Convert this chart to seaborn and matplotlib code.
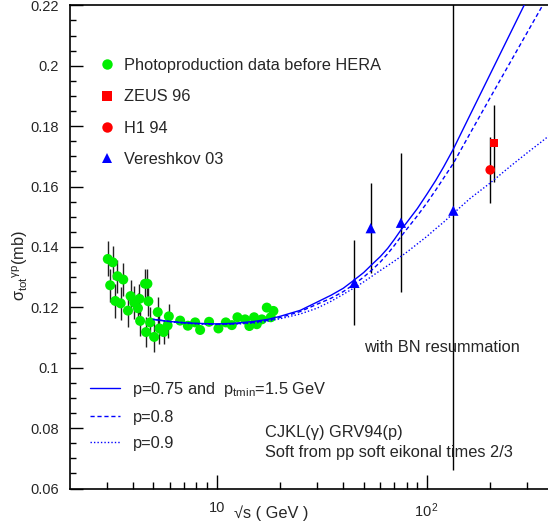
import matplotlib
matplotlib.use("Agg")
import matplotlib.pyplot as plt
from matplotlib.lines import Line2D
from matplotlib.ticker import FixedLocator, FuncFormatter
import pandas as pd
import seaborn as sns

# photoproduction data before HERA (sqrt(s) in GeV, sigma in mb)
photo_x = [3.04, 3.12, 3.21, 3.30, 3.38, 3.50, 3.60, 3.79, 3.90, 4.06, 4.23, 4.30,
           4.33, 4.57, 4.69, 4.62, 4.74, 4.83, 5.05, 5.25, 5.35, 5.60, 5.85, 5.93,
           6.71, 7.30, 7.91, 8.35, 9.21, 10.2, 11.06, 11.81, 12.56, 13.66, 14.31,
           15.07, 15.52, 16.40, 17.32, 18.09, 18.62]
photo_y = [0.1360, 0.1273, 0.1349, 0.1221, 0.1303, 0.1213, 0.1292, 0.1189, 0.1237,
           0.1216, 0.1197, 0.1228, 0.1155, 0.1278, 0.1278, 0.1118, 0.1220, 0.1150,
           0.1102, 0.1184, 0.1130, 0.1118, 0.1140, 0.1170, 0.1156, 0.1139, 0.1150,
           0.1125, 0.1152, 0.1130, 0.1150, 0.1141, 0.1167, 0.1160, 0.1138, 0.1167,
           0.1144, 0.1160, 0.1199, 0.1167, 0.1188]
photo_err = [0.0058, 0.0055, 0.0055, 0.0055, 0.0055, 0.0055, 0.0055, 0.0055, 0.0055,
             0.0055, 0.0050, 0.0050, 0.0050, 0.0050, 0.0050, 0.0050, 0.0050, 0.0050,
             0.0050, 0.0050, 0.0050, 0.0040, 0.0040, 0.0040, 0.0012, 0.0012, 0.0012,
             0.0012, 0.0012, 0.0012, 0.0012, 0.0012, 0.0012, 0.0012, 0.0012, 0.0012,
             0.0012, 0.0012, 0.0012, 0.0012, 0.0012]

zeus_x, zeus_y, zeus_err = [208.8], [0.1743], [0.0128]
h1_x, h1_y, h1_err = [199.8], [0.1655], [0.0110]

vereshkov_x = [45.2, 54.0, 75.2, 133.4]
vereshkov_y = [0.1281, 0.1462, 0.1480, 0.1520]
vereshkov_err = [0.0141, 0.0149, 0.0230, 0.0860]

# model curves (BN resummation)
curve_x = [5.0, 6, 7, 8, 10, 12, 15, 17.5, 20, 25, 30, 35, 40, 45, 50, 55, 60, 65,
           70, 75, 80, 90, 100, 110, 120, 133, 160, 200, 250, 300, 350, 380]
curve_p075 = [0.1160, 0.1153, 0.1149, 0.1147, 0.1145, 0.1147, 0.1153, 0.1160,
              0.1170, 0.1190, 0.1217, 0.1240, 0.1263, 0.1290, 0.1315, 0.1343,
              0.1368, 0.1395, 0.1425, 0.1455, 0.1480, 0.1527, 0.1575, 0.1620,
              0.1665, 0.1722, 0.1836, 0.1973, 0.2110, 0.2222, 0.2318, 0.2370]
curve_p08 = [0.1160, 0.1153, 0.1149, 0.1146, 0.1144, 0.1145, 0.1150, 0.1157,
             0.1166, 0.1186, 0.1210, 0.1230, 0.1252, 0.1276, 0.1300, 0.1325,
             0.1350, 0.1377, 0.1405, 0.1433, 0.1458, 0.1503, 0.1546, 0.1588,
             0.1628, 0.1675, 0.1775, 0.1895, 0.2014, 0.2111, 0.2193, 0.2237]
curve_p09 = [0.1160, 0.1152, 0.1147, 0.1145, 0.1143, 0.1144, 0.1148, 0.1154,
             0.1162, 0.1178, 0.1197, 0.1220, 0.1243, 0.1264, 0.1284, 0.1304,
             0.1322, 0.1338, 0.1353, 0.1368, 0.1382, 0.1410, 0.1435, 0.1460,
             0.1482, 0.1510, 0.1560, 0.1612, 0.1668, 0.1712, 0.1748, 0.1768]

curves = pd.DataFrame({
    "sqrts": curve_x * 3,
    "sigma": curve_p075 + curve_p08 + curve_p09,
    "model": ["p075"] * len(curve_x) + ["p08"] * len(curve_x) + ["p09"] * len(curve_x),
})

sns.set_theme(style="ticks")
plt.rcParams["font.family"] = ["Liberation Sans", "DejaVu Sans"]
plt.rcParams["mathtext.fontset"] = "custom"
plt.rcParams["mathtext.rm"] = "Liberation Sans"
plt.rcParams["mathtext.it"] = "Liberation Sans"
plt.rcParams["mathtext.sf"] = "Liberation Sans"

FS = 11.8
BLUE = "#0000ff"
GREEN = "#00ee00"
RED = "#ff0000"
LINESTYLES = {"p075": "-", "p08": (0, (3, 2)), "p09": (0, (1, 1.5))}

fig = plt.figure(figsize=(5.48, 5.31), dpi=100)
ax = fig.add_axes([70 / 548, 1 - 488.5 / 531, 1 - 70 / 548, (488.5 - 5.3) / 531])

# error bars
ax.errorbar(photo_x, photo_y, yerr=photo_err, fmt="none", ecolor="#222222", elinewidth=1, zorder=2)
ax.errorbar(vereshkov_x, vereshkov_y, yerr=vereshkov_err, fmt="none", ecolor="black", elinewidth=1, zorder=2)
ax.errorbar(zeus_x, zeus_y, yerr=zeus_err, fmt="none", ecolor="black", elinewidth=1, zorder=2)
ax.errorbar(h1_x, h1_y, yerr=h1_err, fmt="none", ecolor="black", elinewidth=1, zorder=2)

# data points
sns.scatterplot(x=photo_x, y=photo_y, ax=ax, color=GREEN, marker="o", s=52, edgecolor="none", zorder=3)
sns.scatterplot(x=zeus_x, y=zeus_y, ax=ax, color=RED, marker="s", s=36, edgecolor="none", zorder=3)
sns.scatterplot(x=h1_x, y=h1_y, ax=ax, color=RED, marker="o", s=48, edgecolor="none", zorder=3)
sns.scatterplot(x=vereshkov_x, y=vereshkov_y, ax=ax, color=BLUE, marker="^", s=55, edgecolor="none", zorder=4)

# model curves
for model, ls in LINESTYLES.items():
    sub = curves[curves["model"] == model]
    sns.lineplot(data=sub, x="sqrts", y="sigma", ax=ax, color=BLUE, linewidth=1.0,
                 zorder=3, sort=False)
    ax.lines[-1].set_linestyle(ls)

ax.set_xscale("log")
ax.set_xlim(2.01, 376)
ax.set_ylim(0.06, 0.22)
ax.set_xlabel("")
ax.set_ylabel("")

# axes styling (ROOT-like)
for side in ["top", "bottom", "left"]:
    ax.spines[side].set_visible(True)
    ax.spines[side].set_linewidth(1.2)
    ax.spines[side].set_color("black")
ax.spines["right"].set_visible(False)

ax.yaxis.set_major_locator(FixedLocator([0.06, 0.08, 0.10, 0.12, 0.14, 0.16, 0.18, 0.20, 0.22]))
ax.yaxis.set_minor_locator(FixedLocator([0.06 + 0.005 * i for i in range(33)]))
ax.yaxis.set_major_formatter(FuncFormatter(lambda v, p: "%g" % round(v, 3)))
ax.xaxis.set_major_locator(FixedLocator([10, 100]))
ax.xaxis.set_major_formatter(FuncFormatter(lambda v, p: "10" if v < 50 else r"10$^{\,2}$"))
ax.xaxis.set_minor_locator(FixedLocator([3, 4, 5, 6, 7, 8, 9, 20, 30, 40, 50, 60, 70, 80, 90, 200, 300]))
ax.xaxis.set_minor_formatter(FuncFormatter(lambda v, p: ""))

ax.tick_params(axis="both", which="both", direction="in", color="black", width=1)
ax.tick_params(axis="y", which="major", length=9, pad=8, labelsize=10.5)
ax.tick_params(axis="y", which="minor", length=4.5)
ax.tick_params(axis="x", which="major", length=10, pad=9, labelsize=10.5)
ax.tick_params(axis="x", which="minor", length=5)
ax.tick_params(top=False, right=False, which="both")

# axis titles
fig.text(234 / 548, 1 - 513 / 531, "\u221as ( GeV )", fontsize=FS, ha="left", va="center")
fig.text(20 / 548, 1 - 230 / 531, r"$\sigma_{\rm tot}$$^{\gamma p}$(mb)", fontsize=FS,
         rotation=90, ha="center", va="top")

# annotations
fig.text(364 / 548, 1 - 348 / 531, "with BN resummation", fontsize=FS, ha="left", va="center")
fig.text(265 / 548, 1 - 433 / 531, "CJKL(\u03b3) GRV94(p)", fontsize=FS, ha="left", va="center")
fig.text(265 / 548, 1 - 453 / 531, "Soft from pp soft eikonal times 2/3", fontsize=FS,
         ha="left", va="center")

# legends
marker_handles = [
    Line2D([], [], linestyle="none", marker="o", color=GREEN, markersize=7.5, markeredgewidth=0),
    Line2D([], [], linestyle="none", marker="s", color=RED, markersize=6.5, markeredgewidth=0),
    Line2D([], [], linestyle="none", marker="o", color=RED, markersize=7.5, markeredgewidth=0),
    Line2D([], [], linestyle="none", marker="^", color=BLUE, markersize=6.5, markeredgewidth=0),
]
fig.legend(marker_handles,
           ["Photoproduction data before HERA", "ZEUS 96", "H1 94", "Vereshkov 03"],
           loc="upper left", bbox_to_anchor=(98.5 / 548, 1 - 58 / 531), frameon=False,
           fontsize=FS, handlelength=1.0, handletextpad=0.57, labelspacing=1.0,
           borderpad=0, borderaxespad=0)

line_handles = [Line2D([], [], color=BLUE, linewidth=1.0, linestyle=ls) for ls in LINESTYLES.values()]
fig.legend(line_handles,
           [r"p=0.75 and  p$_{\rm tmin}$=1.5 GeV", "p=0.8", "p=0.9"],
           loc="upper left", bbox_to_anchor=(90 / 548, 1 - 380 / 531), frameon=False,
           fontsize=FS, handlelength=1.82, handletextpad=0.77, labelspacing=0.66,
           borderpad=0, borderaxespad=0)

fig.savefig("out.png", dpi=100)
